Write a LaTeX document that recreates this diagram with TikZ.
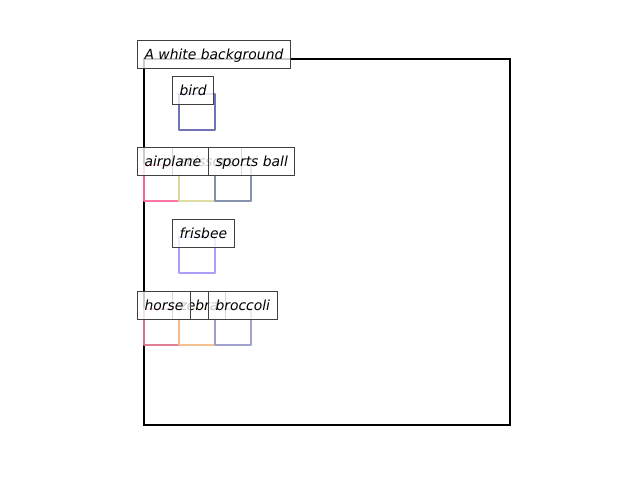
\documentclass[tikz,border=0pt]{standalone}
\usepackage{fontspec}
\setmainfont{DejaVu Sans}
\definecolor{cbird}{RGB}{106,106,180}
\definecolor{cair}{RGB}{255,111,160}
\definecolor{csci}{RGB}{220,220,160}
\definecolor{cball}{RGB}{127,140,170}
\definecolor{cfris}{RGB}{168,152,248}
\definecolor{chorse}{RGB}{224,120,144}
\definecolor{czebra}{RGB}{245,190,140}
\definecolor{cbroc}{RGB}{156,156,203}
\definecolor{edgegray}{RGB}{64,64,64}
\tikzset{
  lbl/.style={anchor=west, draw=edgegray, line width=1pt, fill=white, fill opacity=0.8, text opacity=1,
    inner xsep=7pt, inner ysep=0pt, minimum height=28pt, text height=13pt, text depth=1.5pt,
    font=\fontsize{13.9}{16}\selectfont\itshape},
  sq/.style={line width=2.5pt, line join=round, opacity=0.95},
}
\begin{document}
\begin{tikzpicture}[x=1pt,y=-1pt]
\useasboundingbox (0,0) rectangle (640,480);
\draw[line width=2pt, line join=miter] (144,59) rectangle (510,425);
% squares
\draw[sq, cbird] (179,94) rectangle (215,130);
\draw[sq, cair] (144,165) rectangle (179,201);
\draw[sq, csci] (179,165) rectangle (215,201);
\draw[sq, cball] (215,165) rectangle (251,201);
\draw[sq, cfris] (179,237) rectangle (215,273);
\draw[sq, chorse] (144,309) rectangle (179,345);
\draw[sq, czebra] (179,309) rectangle (215,345);
\draw[sq, cbroc] (215,309) rectangle (251,345);
% labels
\node[lbl] (title) at (137,54) {A white background};
\node[lbl] (bird) at (172,90) {bird};
\node[lbl] (scissors) at (172,161) {scissors};
\node[lbl] (airplane) at (137,161) {airplane};
\node[lbl] (sportsball) at (208,161) {sports ball};
\node[lbl] (frisbee) at (172,233) {frisbee};
\node[lbl] (zebra) at (172,305) {zebra};
\node[lbl] (horse) at (137,305) {horse};
\node[lbl] (broccoli) at (208,305) {broccoli};
\end{tikzpicture}
\end{document}
